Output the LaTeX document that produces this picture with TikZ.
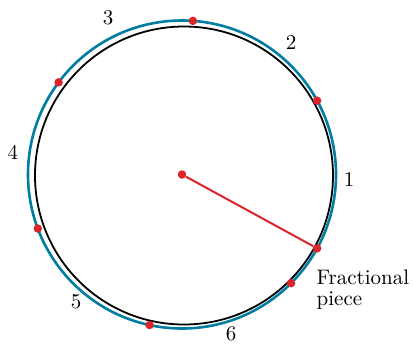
\documentclass[tikz,border=0pt]{standalone}
\usepackage{fontspec}
\setmainfont{lmroman10-regular}[Extension=.otf]
\definecolor{arcblue}{RGB}{0,125,160}
\definecolor{dotred}{RGB}{218,38,43}
\begin{document}
\begin{tikzpicture}[x=1pt,y=-1pt,
  dotnode/.style={circle,fill=dotred,draw=none,inner sep=0pt,minimum size=8.5pt},
  radline/.style={draw=dotred,line width=2pt},
  bluearc/.style={draw=arcblue,line width=2.6pt},
  blackcirc/.style={draw=black,line width=1.8pt},
  numlabel/.style={inner sep=0pt,font=\fontsize{21}{21}\selectfont},
  textlabel/.style={inner sep=0pt,align=left,anchor=north west,font=\fontsize{21}{21}\selectfont}]
\useasboundingbox (0,0) rectangle (415,343);
\begin{scope}[shift={(182,174.5)},yscale=-1]
  \draw[bluearc] (0,0) circle[radius=154];
  \draw[blackcirc] (2,-1) circle[radius=149];
  \node[dotnode] (o) at (0,0) {};
  \node[dotnode] (d0) at (-28.648:154) {};
  \node[dotnode] (d1) at (28.648:154) {};
  \node[dotnode] (d2) at (85.944:154) {};
  \node[dotnode] (d3) at (143.239:154) {};
  \node[dotnode] (d4) at (200.535:154) {};
  \node[dotnode] (d5) at (257.831:154) {};
  \node[dotnode] (d6) at (315.127:154) {};
  \draw[radline] (o) -- (d0);
\end{scope}
\node[numlabel] (l1) at (349,180) {1};
\node[numlabel] (l2) at (291,43) {2};
\node[numlabel] (l3) at (108,18) {3};
\node[numlabel] (l4) at (13,152.5) {4};
\node[numlabel] (l5) at (76,302) {5};
\node[numlabel] (l6) at (231,333.5) {6};
\node[textlabel] (fp) at (316.5,269.5) {Fractional\\piece};
\end{tikzpicture}
\end{document}
